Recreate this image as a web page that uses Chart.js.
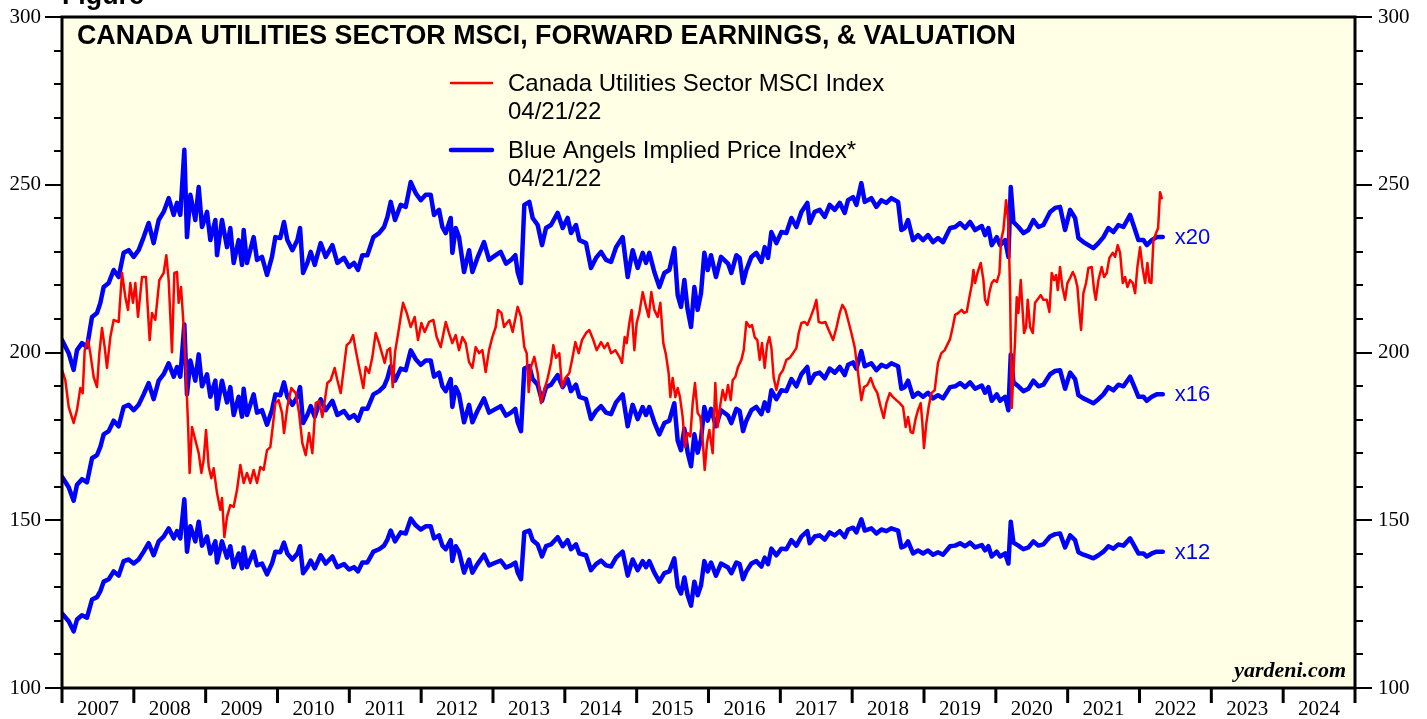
<!DOCTYPE html>
<html>
<head>
<meta charset="utf-8">
<script src="https://cdn.jsdelivr.net/npm/chart.js@4"></script>
<style>
  body { margin: 0; background: #fff; }
  canvas { display: block; }
</style>
</head>
<body>
<canvas id="chart" width="1427" height="719"></canvas>
<script>
// year labels under the x axis
const years = [2007, 2008, 2009, 2010, 2011, 2012, 2013, 2014, 2015, 2016, 2017, 2018, 2019, 2020, 2021, 2022, 2023, 2024];

// valuation multiples applied to forward earnings (blue lines)
const multiples = [20, 16, 12];

// Blue Angels implied price at 20x forward earnings (decimal year, value)
const blueDates = [
  2007.00, 2007.093, 2007.162, 2007.209, 2007.278, 2007.348, 2007.418, 2007.487, 2007.534, 2007.580,
  2007.650, 2007.719, 2007.789, 2007.858, 2007.928, 2007.998, 2008.067, 2008.137, 2008.206, 2008.276,
  2008.346, 2008.415, 2008.485, 2008.555, 2008.601, 2008.647, 2008.703, 2008.740, 2008.787, 2008.856,
  2008.903, 2008.949, 2009.019, 2009.065, 2009.135, 2009.158, 2009.227, 2009.297, 2009.343, 2009.390,
  2009.459, 2009.506, 2009.529, 2009.575, 2009.668, 2009.715, 2009.784, 2009.854, 2009.923, 2009.970,
  2010.039, 2010.090, 2010.137, 2010.207, 2010.277, 2010.314, 2010.356, 2010.416, 2010.462, 2010.518,
  2010.601, 2010.671, 2010.764, 2010.833, 2010.926, 2010.996, 2011.065, 2011.121, 2011.181, 2011.251,
  2011.335, 2011.414, 2011.483, 2011.530, 2011.576, 2011.636, 2011.715, 2011.785, 2011.855, 2011.924,
  2011.994, 2012.063, 2012.133, 2012.179, 2012.249, 2012.295, 2012.342, 2012.411, 2012.434, 2012.481,
  2012.527, 2012.597, 2012.667, 2012.713, 2012.783, 2012.875, 2012.945, 2013.038, 2013.107, 2013.181,
  2013.251, 2013.311, 2013.343, 2013.390, 2013.436, 2013.506, 2013.552, 2013.622, 2013.682, 2013.738,
  2013.807, 2013.900, 2013.970, 2014.039, 2014.086, 2014.155, 2014.202, 2014.295, 2014.364, 2014.434,
  2014.504, 2014.573, 2014.643, 2014.713, 2014.805, 2014.875, 2014.944, 2015.014, 2015.084, 2015.130,
  2015.176, 2015.246, 2015.316, 2015.385, 2015.455, 2015.524, 2015.571, 2015.617, 2015.664, 2015.710,
  2015.757, 2015.803, 2015.849, 2015.896, 2015.942, 2015.989, 2016.035, 2016.104, 2016.174, 2016.272,
  2016.318, 2016.388, 2016.434, 2016.481, 2016.527, 2016.597, 2016.666, 2016.736, 2016.782, 2016.829,
  2016.875, 2016.945, 2017.014, 2017.084, 2017.154, 2017.223, 2017.293, 2017.376, 2017.409, 2017.478,
  2017.548, 2017.618, 2017.687, 2017.757, 2017.827, 2017.896, 2017.943, 2018.012, 2018.059, 2018.128,
  2018.175, 2018.267, 2018.337, 2018.407, 2018.476, 2018.546, 2018.639, 2018.685, 2018.731, 2018.778,
  2018.847, 2018.917, 2018.987, 2019.056, 2019.126, 2019.195, 2019.265, 2019.363, 2019.433, 2019.502,
  2019.572, 2019.641, 2019.711, 2019.804, 2019.850, 2019.897, 2019.943, 2020.013, 2020.059, 2020.129,
  2020.175, 2020.208, 2020.245, 2020.314, 2020.384, 2020.454, 2020.523, 2020.593, 2020.662, 2020.755,
  2020.825, 2020.894, 2020.964, 2021.034, 2021.103, 2021.150, 2021.219, 2021.289, 2021.358, 2021.428,
  2021.498, 2021.567, 2021.637, 2021.706, 2021.776, 2021.869, 2021.939, 2021.985, 2022.055, 2022.101,
  2022.171, 2022.240, 2022.324
];
const impliedX20 = [
  203.7, 199.8, 194.8, 200.7, 202.8, 201.6, 210.6, 211.8, 214.8, 219.5,
  220.7, 224.6, 222.5, 229.7, 230.5, 228.5, 230.5, 234.4, 238.6, 232.6,
  239.5, 241.9, 246.0, 241.0, 244.6, 241.0, 260.4, 234.4, 247.0, 239.5,
  249.3, 237.4, 241.9, 233.5, 239.5, 229.0, 239.5, 231.4, 237.1, 226.7,
  233.5, 226.1, 236.5, 226.7, 234.4, 227.6, 228.5, 223.1, 228.5, 234.4,
  234.1, 238.9, 233.5, 230.5, 233.5, 237.1, 223.7, 226.7, 230.0, 226.1,
  232.6, 228.5, 232.0, 226.7, 228.2, 225.5, 226.7, 224.6, 229.0, 229.0,
  234.4, 235.6, 237.4, 240.4, 244.9, 239.5, 244.0, 243.4, 250.8, 247.5,
  245.4, 247.0, 247.0, 241.0, 242.5, 237.4, 235.6, 240.1, 229.7, 237.1,
  234.4, 224.0, 230.5, 224.0, 228.2, 232.9, 227.6, 229.0, 230.0, 226.5,
  227.6, 229.0, 224.0, 220.7, 244.0, 244.9, 240.1, 238.0, 232.0, 237.1,
  238.0, 241.6, 237.1, 240.1, 235.6, 238.0, 233.5, 232.6, 225.2, 228.2,
  230.0, 227.6, 227.0, 231.4, 234.4, 222.5, 230.5, 225.2, 229.7, 226.7,
  229.7, 224.0, 219.5, 223.7, 224.6, 231.1, 217.1, 213.6, 221.6, 212.7,
  207.6, 219.5, 212.7, 217.7, 229.7, 224.6, 229.0, 222.5, 228.5, 226.5,
  223.7, 229.0, 228.2, 220.7, 224.6, 228.5, 229.7, 227.0, 231.4, 228.2,
  235.9, 232.6, 235.9, 235.6, 240.1, 237.4, 241.9, 244.6, 238.6, 241.9,
  242.5, 240.4, 244.0, 242.5, 244.6, 241.6, 245.4, 246.3, 244.0, 250.5,
  244.9, 246.0, 243.4, 245.4, 244.6, 246.0, 244.9, 236.5, 237.1, 239.5,
  233.5, 235.0, 233.5, 235.0, 232.9, 234.1, 232.9, 237.1, 237.4, 238.6,
  237.1, 238.9, 236.5, 237.7, 235.0, 237.1, 232.0, 234.4, 232.0, 233.5,
  228.5, 249.3, 238.9, 237.4, 235.6, 236.5, 239.5, 237.4, 238.0, 241.9,
  243.1, 243.4, 236.5, 242.5, 240.1, 234.1, 232.9, 232.0, 231.1, 232.6,
  234.4, 237.1, 235.9, 238.0, 237.4, 241.0, 236.5, 233.5, 233.5, 232.0,
  233.5, 234.4, 234.4
];

// Canada Utilities Sector MSCI Index (decimal year, value)
const redDates = [
  2007.000, 2007.046, 2007.093, 2007.162, 2007.209, 2007.255, 2007.288, 2007.316, 2007.362, 2007.394,
  2007.441, 2007.487, 2007.520, 2007.557, 2007.594, 2007.626, 2007.673, 2007.719, 2007.789, 2007.835,
  2007.882, 2007.919, 2007.951, 2007.988, 2008.021, 2008.058, 2008.114, 2008.169, 2008.220, 2008.253,
  2008.299, 2008.355, 2008.415, 2008.452, 2008.485, 2008.531, 2008.564, 2008.601, 2008.624, 2008.657,
  2008.694, 2008.726, 2008.754, 2008.777, 2008.810, 2008.856, 2008.903, 2008.940, 2008.972, 2009.005,
  2009.042, 2009.079, 2009.111, 2009.158, 2009.204, 2009.227, 2009.260, 2009.297, 2009.343, 2009.390,
  2009.436, 2009.483, 2009.529, 2009.575, 2009.622, 2009.668, 2009.715, 2009.761, 2009.807, 2009.854,
  2009.900, 2009.933, 2009.970, 2010.016, 2010.063, 2010.091, 2010.137, 2010.193, 2010.253, 2010.300,
  2010.346, 2010.393, 2010.439, 2010.485, 2010.532, 2010.578, 2010.625, 2010.694, 2010.741, 2010.796,
  2010.833, 2010.880, 2010.917, 2010.963, 2011.010, 2011.052, 2011.089, 2011.135, 2011.195, 2011.228,
  2011.274, 2011.321, 2011.367, 2011.414, 2011.460, 2011.492, 2011.530, 2011.567, 2011.604, 2011.636,
  2011.683, 2011.724, 2011.748, 2011.799, 2011.854, 2011.910, 2011.956, 2012.003, 2012.049, 2012.110,
  2012.170, 2012.216, 2012.272, 2012.342, 2012.388, 2012.434, 2012.481, 2012.527, 2012.574, 2012.620,
  2012.666, 2012.713, 2012.759, 2012.806, 2012.852, 2012.898, 2012.945, 2012.991, 2013.038, 2013.070,
  2013.117, 2013.154, 2013.181, 2013.227, 2013.274, 2013.343, 2013.390, 2013.436, 2013.469, 2013.497,
  2013.529, 2013.575, 2013.622, 2013.668, 2013.715, 2013.761, 2013.807, 2013.840, 2013.877, 2013.923,
  2013.961, 2014.007, 2014.063, 2014.109, 2014.146, 2014.193, 2014.239, 2014.295, 2014.341, 2014.397,
  2014.443, 2014.504, 2014.550, 2014.596, 2014.643, 2014.703, 2014.759, 2014.796, 2014.833, 2014.861,
  2014.898, 2014.930, 2014.968, 2015.000, 2015.037, 2015.084, 2015.130, 2015.167, 2015.204, 2015.246,
  2015.292, 2015.330, 2015.371, 2015.408, 2015.445, 2015.469, 2015.501, 2015.538, 2015.571, 2015.603,
  2015.640, 2015.673, 2015.710, 2015.747, 2015.780, 2015.812, 2015.849, 2015.886, 2015.919, 2015.947,
  2015.979, 2016.012, 2016.058, 2016.095, 2016.128, 2016.160, 2016.197, 2016.234, 2016.272, 2016.309,
  2016.337, 2016.374, 2016.411, 2016.458, 2016.490, 2016.527, 2016.574, 2016.606, 2016.643, 2016.680,
  2016.713, 2016.745, 2016.782, 2016.815, 2016.847, 2016.875, 2016.908, 2016.945, 2016.991, 2017.038,
  2017.084, 2017.130, 2017.177, 2017.223, 2017.256, 2017.293, 2017.339, 2017.376, 2017.423, 2017.469,
  2017.502, 2017.534, 2017.581, 2017.627, 2017.673, 2017.734, 2017.780, 2017.827, 2017.864, 2017.905,
  2017.943, 2017.989, 2018.035, 2018.082, 2018.128, 2018.165, 2018.212, 2018.258, 2018.304, 2018.351,
  2018.397, 2018.439, 2018.476, 2018.523, 2018.569, 2018.615, 2018.662, 2018.708, 2018.745, 2018.778,
  2018.815, 2018.847, 2018.880, 2018.917, 2018.954, 2018.977, 2019.000, 2019.033, 2019.065, 2019.103,
  2019.149, 2019.195, 2019.242, 2019.288, 2019.335, 2019.363, 2019.400, 2019.433, 2019.479, 2019.525,
  2019.558, 2019.595, 2019.632, 2019.665, 2019.688, 2019.711, 2019.744, 2019.790, 2019.827, 2019.850,
  2019.883, 2019.911, 2019.943, 2019.976, 2020.013, 2020.050, 2020.073, 2020.105, 2020.143, 2020.175,
  2020.198, 2020.221, 2020.245, 2020.268, 2020.291, 2020.314, 2020.347, 2020.375, 2020.393, 2020.421,
  2020.444, 2020.477, 2020.514, 2020.546, 2020.593, 2020.625, 2020.662, 2020.709, 2020.746, 2020.778,
  2020.811, 2020.839, 2020.862, 2020.894, 2020.927, 2020.964, 2020.996, 2021.034, 2021.071, 2021.103,
  2021.136, 2021.164, 2021.187, 2021.219, 2021.256, 2021.289, 2021.335, 2021.368, 2021.391, 2021.428,
  2021.474, 2021.507, 2021.544, 2021.581, 2021.627, 2021.660, 2021.697, 2021.730, 2021.767, 2021.799,
  2021.832, 2021.869, 2021.906, 2021.939, 2021.971, 2022.008, 2022.041, 2022.078, 2022.110, 2022.138,
  2022.166, 2022.194, 2022.231, 2022.259, 2022.286, 2022.310
];
const redValues = [
  194.8, 191.8, 183.8, 179.0, 182.9, 189.4, 187.9, 200.7, 203.7, 199.8,
  192.7, 189.7, 199.8, 207.3, 201.6, 195.4, 204.6, 209.7, 209.1, 223.7,
  216.5, 212.7, 220.7, 214.8, 220.7, 210.6, 222.5, 222.5, 203.7, 211.8,
  209.7, 221.6, 223.7, 229.0, 221.6, 200.1, 223.7, 224.0, 214.8, 219.5,
  207.6, 193.9, 179.0, 164.1, 177.8, 173.9, 170.0, 164.1, 168.0, 176.9,
  166.0, 162.5, 165.5, 158.1, 153.1, 156.6, 145.0, 151.0, 154.5, 154.0,
  159.0, 166.5, 161.1, 164.1, 161.1, 165.0, 161.1, 165.9, 165.0, 170.9,
  171.8, 177.8, 184.9, 185.8, 182.0, 176.0, 183.8, 189.4, 187.9, 182.0,
  173.0, 169.4, 176.0, 170.0, 184.9, 185.5, 180.8, 190.9, 191.8, 195.4,
  191.8, 187.9, 194.2, 202.2, 203.1, 205.2, 200.7, 195.7, 189.4, 195.7,
  193.9, 198.7, 205.8, 202.8, 199.3, 196.9, 200.7, 201.3, 189.7, 200.1,
  206.1, 211.8, 214.8, 211.8, 207.6, 210.6, 203.7, 208.8, 206.1, 209.1,
  209.7, 204.6, 201.6, 209.1, 205.8, 202.8, 205.2, 200.7, 204.6, 202.8,
  197.2, 195.4, 201.6, 199.8, 200.7, 194.2, 200.7, 204.6, 207.6, 212.7,
  211.8, 207.6, 208.5, 209.7, 206.1, 213.6, 210.6, 201.6, 199.8, 188.2,
  195.7, 198.7, 193.9, 184.9, 188.8, 192.4, 196.9, 202.2, 198.4, 199.8,
  189.7, 192.4, 193.9, 198.7, 203.1, 199.8, 203.7, 205.8, 206.7, 203.7,
  200.7, 203.1, 201.3, 202.8, 199.8, 200.7, 198.7, 196.9, 204.6, 202.8,
  208.8, 212.7, 200.7, 208.8, 211.8, 218.0, 213.6, 210.6, 218.0, 212.7,
  210.6, 214.8, 202.8, 199.3, 193.9, 186.7, 192.4, 186.7, 189.4, 186.7,
  180.8, 171.8, 176.0, 175.0, 184.9, 190.9, 182.0, 180.8, 173.9, 165.0,
  173.0, 176.9, 170.0, 190.9, 177.8, 183.8, 188.8, 185.8, 190.3, 185.8,
  191.8, 192.7, 195.7, 197.8, 200.7, 209.1, 207.6, 208.2, 204.6, 203.7,
  197.8, 202.8, 195.4, 202.2, 204.6, 201.6, 192.4, 188.8, 193.3, 194.8,
  197.8, 198.4, 199.8, 201.3, 205.8, 208.8, 209.1, 208.2, 210.6, 213.3,
  215.7, 209.1, 208.8, 209.1, 206.7, 203.7, 207.3, 211.8, 214.2, 212.7,
  209.7, 205.8, 201.6, 193.9, 185.8, 189.7, 190.3, 192.4, 189.7, 187.9,
  183.8, 180.5, 184.9, 187.9, 186.7, 185.8, 184.9, 183.8, 177.8, 180.8,
  176.3, 176.0, 179.9, 182.9, 184.9, 179.0, 171.5, 179.0, 183.8, 187.9,
  188.8, 196.9, 199.8, 200.7, 202.8, 204.0, 207.6, 211.2, 211.8, 212.7,
  211.8, 212.1, 216.5, 220.1, 224.6, 220.7, 223.7, 226.7, 221.6, 215.7,
  214.2, 218.0, 220.7, 221.6, 221.0, 223.7, 233.5, 236.5, 245.4, 238.6,
  218.6, 183.5, 193.9, 203.7, 216.5, 211.8, 221.6, 211.8, 205.8, 207.6,
  215.7, 207.6, 205.8, 214.8, 216.2, 217.1, 215.7, 215.7, 212.1, 223.7,
  221.6, 223.1, 218.6, 225.5, 219.5, 215.7, 220.7, 222.2, 224.0, 222.5,
  219.5, 211.8, 206.7, 217.7, 220.7, 225.2, 225.5, 218.6, 215.7, 221.6,
  225.5, 222.5, 223.7, 228.2, 229.7, 228.5, 232.0, 229.7, 220.7, 222.5,
  219.5, 221.6, 220.7, 217.7, 225.5, 231.4, 225.5, 220.7, 226.7, 221.0,
  220.7, 233.5, 235.6, 237.1, 247.8, 246.0
];

const SERIF = '"Liberation Serif", "Times New Roman", serif';
const SANS = '"Liberation Sans", Arial, sans-serif';

function toPoints(dates, values, factor) {
    return dates.map(function(t, i) {
        return { x: t, y: values[i] * factor };
    });
}

const datasets = [{
    label: 'Canada Utilities Sector MSCI Index',
    data: toPoints(redDates, redValues, 1),
    borderColor: '#ff0000',
    borderWidth: 2.5,
    order: 0,
}];
multiples.forEach(function(m) {
    datasets.push({
        label: 'x' + m,
        data: toPoints(blueDates, impliedX20, m / 20),
        borderColor: '#0000ff',
        borderWidth: 4.5,
        order: 1,
    });
});

// background, frame, ticks and all the annotation text
const decorPlugin = {
    id: 'decor',
    beforeDraw: function(chart) {
        const ctx = chart.ctx;
        const a = chart.chartArea;
        ctx.save();
        ctx.fillStyle = '#ffffff';
        ctx.fillRect(0, 0, chart.width, chart.height);
        ctx.fillStyle = '#ffffe6';
        ctx.fillRect(a.left, a.top, a.right - a.left, a.bottom - a.top);
        ctx.restore();
    },
    afterDraw: function(chart) {
        const ctx = chart.ctx;
        const a = chart.chartArea;
        const xs = chart.scales.x;
        const ys = chart.scales.y;
        ctx.save();

        // y tick marks, both sides
        ctx.strokeStyle = '#000';
        ctx.lineWidth = 2;
        for (let v = 100; v <= 300; v += 10) {
            const py = Math.round(ys.getPixelForValue(v));
            const len = v % 50 === 0 ? 17 : 8;
            ctx.beginPath();
            ctx.moveTo(a.left - len, py);
            ctx.lineTo(a.left, py);
            ctx.moveTo(a.right, py);
            ctx.lineTo(a.right + len, py);
            ctx.stroke();
        }

        // year boundary tick marks below the axis
        ctx.lineWidth = 3;
        years.concat([years[years.length - 1] + 1]).forEach(function(yr) {
            const px = xs.getPixelForValue(yr);
            ctx.beginPath();
            ctx.moveTo(px, a.bottom);
            ctx.lineTo(px, a.bottom + 15);
            ctx.stroke();
        });

        // frame
        ctx.lineWidth = 3;
        ctx.strokeRect(a.left, a.top, a.right - a.left, a.bottom - a.top);

        // title
        ctx.fillStyle = '#000';
        ctx.textBaseline = 'middle';
        ctx.textAlign = 'left';
        ctx.font = 'bold 26.8px ' + SANS;
        ctx.fillText('CANADA UTILITIES SECTOR MSCI, FORWARD EARNINGS, & VALUATION', 77, 37);

        ctx.textBaseline = 'alphabetic';
        ctx.fillText('Figure', 62, 4);

        // legend
        ctx.textBaseline = 'middle';
        ctx.font = '24px ' + SANS;
        ctx.lineCap = 'round';
        ctx.strokeStyle = '#ff0000';
        ctx.lineWidth = 2.5;
        ctx.beginPath();
        ctx.moveTo(451, 83);
        ctx.lineTo(492, 83);
        ctx.stroke();
        ctx.fillText('Canada Utilities Sector MSCI Index', 508, 84);
        ctx.fillText('04/21/22', 508, 112);

        ctx.strokeStyle = '#0000ff';
        ctx.lineWidth = 4.5;
        ctx.beginPath();
        ctx.moveTo(451, 150);
        ctx.lineTo(492, 150);
        ctx.stroke();
        ctx.fillText('Blue Angels Implied Price Index*', 508, 151);
        ctx.fillText('04/21/22', 508, 179);

        // multiple labels next to the last blue point
        const lastT = blueDates[blueDates.length - 1];
        const lastV = impliedX20[impliedX20.length - 1];
        ctx.fillStyle = '#0000ff';
        ctx.font = '22px ' + SANS;
        multiples.forEach(function(m) {
            const px = xs.getPixelForValue(lastT) + 12;
            const py = ys.getPixelForValue(lastV * m / 20);
            ctx.fillText('x' + m, px, py + 1);
        });

        // source
        ctx.fillStyle = '#000';
        ctx.textAlign = 'right';
        ctx.textBaseline = 'alphabetic';
        ctx.font = 'italic bold 22px ' + SERIF;
        ctx.fillText('yardeni.com', a.right - 9, a.bottom - 11);

        ctx.restore();
    }
};

const yTickCallback = function(v) {
    return v % 50 === 0 ? v : '';
};

// fixed axis sizes, no extra room for label overflow
function fixSize(w, h) {
    return function(scale) {
        if (w !== null) scale.width = w;
        if (h !== null) scale.height = h;
        scale.paddingTop = 0;
        scale.paddingBottom = 0;
        scale.paddingLeft = 0;
        scale.paddingRight = 0;
    };
}

new Chart(document.getElementById('chart'), {
    type: 'line',
    data: { datasets: datasets },
    options: {
        responsive: false,
        animation: false,
        layout: { padding: { top: 17, left: 0, right: 0, bottom: 0 } },
        elements: {
            point: { radius: 0 },
            line: { tension: 0, borderJoinStyle: 'round', borderCapStyle: 'round' }
        },
        plugins: {
            legend: { display: false },
            tooltip: { enabled: false },
            title: { display: false }
        },
        scales: {
            x: {
                type: 'linear',
                position: 'bottom',
                min: years[0],
                max: years[years.length - 1] + 1,
                afterBuildTicks: function(scale) {
                    scale.ticks = years.map(function(yr) { return { value: yr + 0.5 }; });
                },
                afterFit: fixSize(null, 31),
                grid: { display: false, drawTicks: false },
                border: { display: false },
                ticks: {
                    autoSkip: false,
                    maxRotation: 0,
                    padding: 9,
                    color: '#000',
                    font: { family: SERIF, size: 21 },
                    callback: function(v) { return String(Math.floor(v)); }
                }
            },
            y: {
                type: 'linear',
                position: 'left',
                min: 100,
                max: 300,
                afterFit: fixSize(62, null),
                grid: { display: false, drawTicks: false },
                border: { display: false },
                ticks: {
                    stepSize: 10,
                    autoSkip: false,
                    padding: 21,
                    color: '#000',
                    font: { family: SERIF, size: 21 },
                    callback: yTickCallback
                }
            },
            y2: {
                type: 'linear',
                position: 'right',
                min: 100,
                max: 300,
                afterFit: fixSize(72, null),
                grid: { display: false, drawTicks: false },
                border: { display: false },
                ticks: {
                    stepSize: 10,
                    autoSkip: false,
                    padding: 23,
                    color: '#000',
                    font: { family: SERIF, size: 21 },
                    callback: yTickCallback
                }
            }
        }
    },
    plugins: [decorPlugin]
});
</script>
</body>
</html>
